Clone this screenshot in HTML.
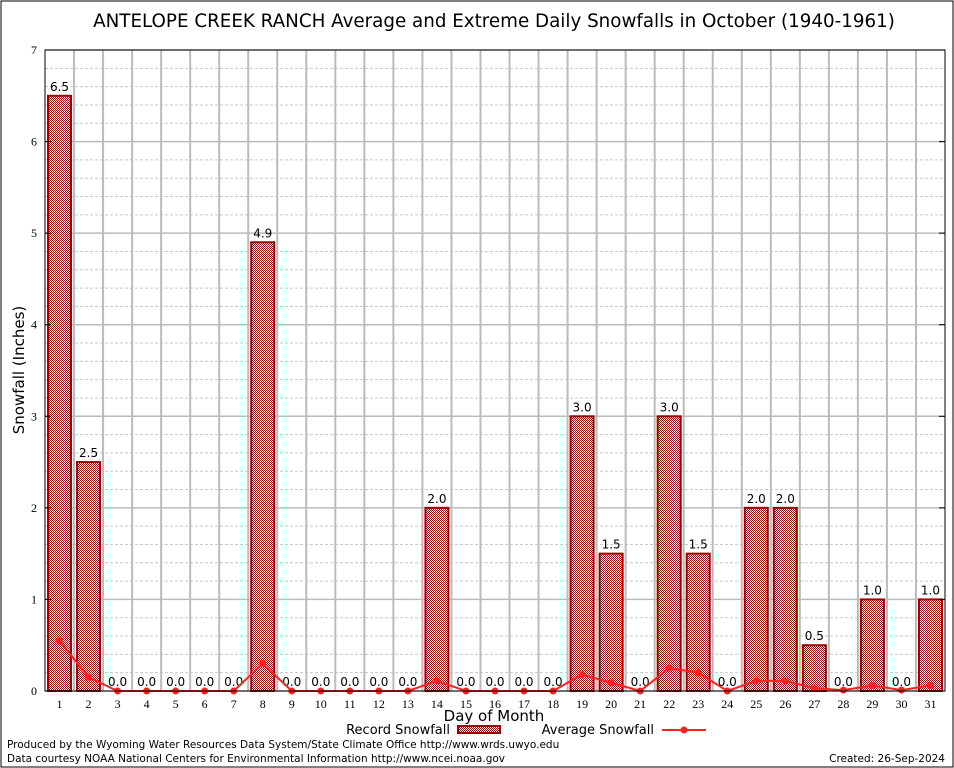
<!DOCTYPE html>
<html><head><meta charset="utf-8"><style>
body{margin:0;background:#fff;}
svg{display:block;font-family:"DejaVu Sans",sans-serif;}
</style></head><body>
<svg id="chart" width="954" height="768" xmlns="http://www.w3.org/2000/svg">
<defs>
<pattern id="chk" width="2" height="2" patternUnits="userSpaceOnUse">
<rect width="2" height="2" fill="#fff"/><rect width="1" height="1" fill="#b00000"/><rect x="1" y="1" width="1" height="1" fill="#b00000"/>
</pattern>
</defs>
<rect x="1" y="1" width="952" height="766" fill="#fff" stroke="#000"/>
<text x="494" y="27" font-size="18.3" text-anchor="middle">ANTELOPE CREEK RANCH Average and Extreme Daily Snowfalls in October (1940-1961)</text>
<g id="grid"></g>
<g id="bars"></g>
<g id="avg"></g>
<g id="axes"></g>
<text x="24" y="370" font-size="15" text-anchor="middle" transform="rotate(-90 24 370)">Snowfall (Inches)</text>
<text x="494" y="721" font-size="15" text-anchor="middle">Day of Month</text>
<g>
<text x="450" y="734" font-size="13" text-anchor="end">Record Snowfall</text>
<rect x="458" y="726" width="42" height="7" fill="url(#chk)" stroke="#a00000" stroke-width="2"/>
</g>
<g>
<text x="654" y="734" font-size="13" text-anchor="end">Average Snowfall</text>
<line x1="662" y1="730" x2="706" y2="730" stroke="#ff2020" stroke-width="2"/>
<circle cx="684" cy="730" r="3.5" fill="#ff2020"/>
</g>
<text x="7" y="748" font-size="10.5">Produced by the Wyoming Water Resources Data System/State Climate Office http://www.wrds.uwyo.edu</text>
<text x="7" y="762" font-size="10.5">Data courtesy NOAA National Centers for Environmental Information http://www.ncei.noaa.gov</text>
<text x="945" y="762" font-size="10.5" text-anchor="end">Created: 26-Sep-2024</text>
</svg>
<script>
const days=[1,2,3,4,5,6,7,8,9,10,11,12,13,14,15,16,17,18,19,20,21,22,23,24,25,26,27,28,29,30,31];
const recordValues=[6.5,2.5,0,0,0,0,0,4.9,0,0,0,0,0,2.0,0,0,0,0,3.0,1.5,0,3.0,1.5,0,2.0,2.0,0.5,0,1.0,0,1.0];
const averageValues=[0.55,0.15,0,0,0,0,0,0.3,0,0,0,0,0,0.11,0,0,0,0,0.18,0.09,0,0.25,0.2,0,0.11,0.11,0.03,0.01,0.06,0.01,0.06];
const yTicks=[0,1,2,3,4,5,6,7];
const NS="http://www.w3.org/2000/svg";
const L=45,R=945,T=50,B=691,YMAX=7;
const slot=(R-L)/days.length;
const x=d=>L+(d-0.5)*slot;
const y=v=>B-v/YMAX*(B-T);
function mk(tag,attrs,parent,text){const e=document.createElementNS(NS,tag);for(const k in attrs)e.setAttribute(k,attrs[k]);if(text!==undefined)e.textContent=text;parent.appendChild(e);return e;}
const grid=document.getElementById('grid'),bars=document.getElementById('bars'),avg=document.getElementById('avg'),axes=document.getElementById('axes');
for(let v=0.2;v<YMAX;v+=0.2){if(Math.abs(v-Math.round(v))<0.01)continue;
 const g=mk('line',{x1:L,x2:R,y1:y(v),y2:y(v),stroke:'#c8c8c8','stroke-dasharray':'3,2'},grid);
 
 }
yTicks.forEach(v=>{const g=mk('line',{x1:L,x2:R,y1:y(v),y2:y(v),stroke:'#bbb','stroke-width':1.5},grid);
 
 
 const t=mk('text',{x:L-8,y:y(v)+4,'font-size':12,'text-anchor':'end','font-family':'Liberation Serif, serif'},axes,String(v));
 
 
 mk('line',{x1:L,x2:L+6,y1:y(v),y2:y(v),stroke:'#000'},axes);
 mk('line',{x1:R,x2:R-6,y1:y(v),y2:y(v),stroke:'#000'},axes);});
for(let i=1;i<days.length;i++){const g=mk('line',{x1:L+i*slot,x2:L+i*slot,y1:T,y2:B,stroke:'#bbb','stroke-width':2},grid);
 
 }
days.forEach((d,i)=>{const v=recordValues[i];
 if(v>0){const b=mk('rect',{x:x(d)-11.5,y:y(v),width:23,height:B-y(v),fill:'url(#chk)',stroke:'#a00000','stroke-width':2},bars);
  
  }
 const t=mk('text',{x:x(d),y:y(v)-5,'font-size':12,'text-anchor':'middle'},bars,v.toFixed(1));
 
 
 const xt=mk('text',{x:x(d),y:B+17,'font-size':12,'text-anchor':'middle','font-family':'Liberation Serif, serif'},axes,String(d));
 
 });
const pl=mk('polyline',{points:days.map((d,i)=>x(d)+','+y(averageValues[i])).join(' '),fill:'none',stroke:'#ff2020','stroke-width':2},avg);


days.forEach((d,i)=>{const c=mk('circle',{cx:x(d),cy:y(averageValues[i]),r:3.5,fill:'#ff2020'},avg);
 
 });
const ax=mk('rect',{x:L,y:T,width:R-L,height:B-T,fill:'none',stroke:'#000'},axes);


</script>
</body></html>
